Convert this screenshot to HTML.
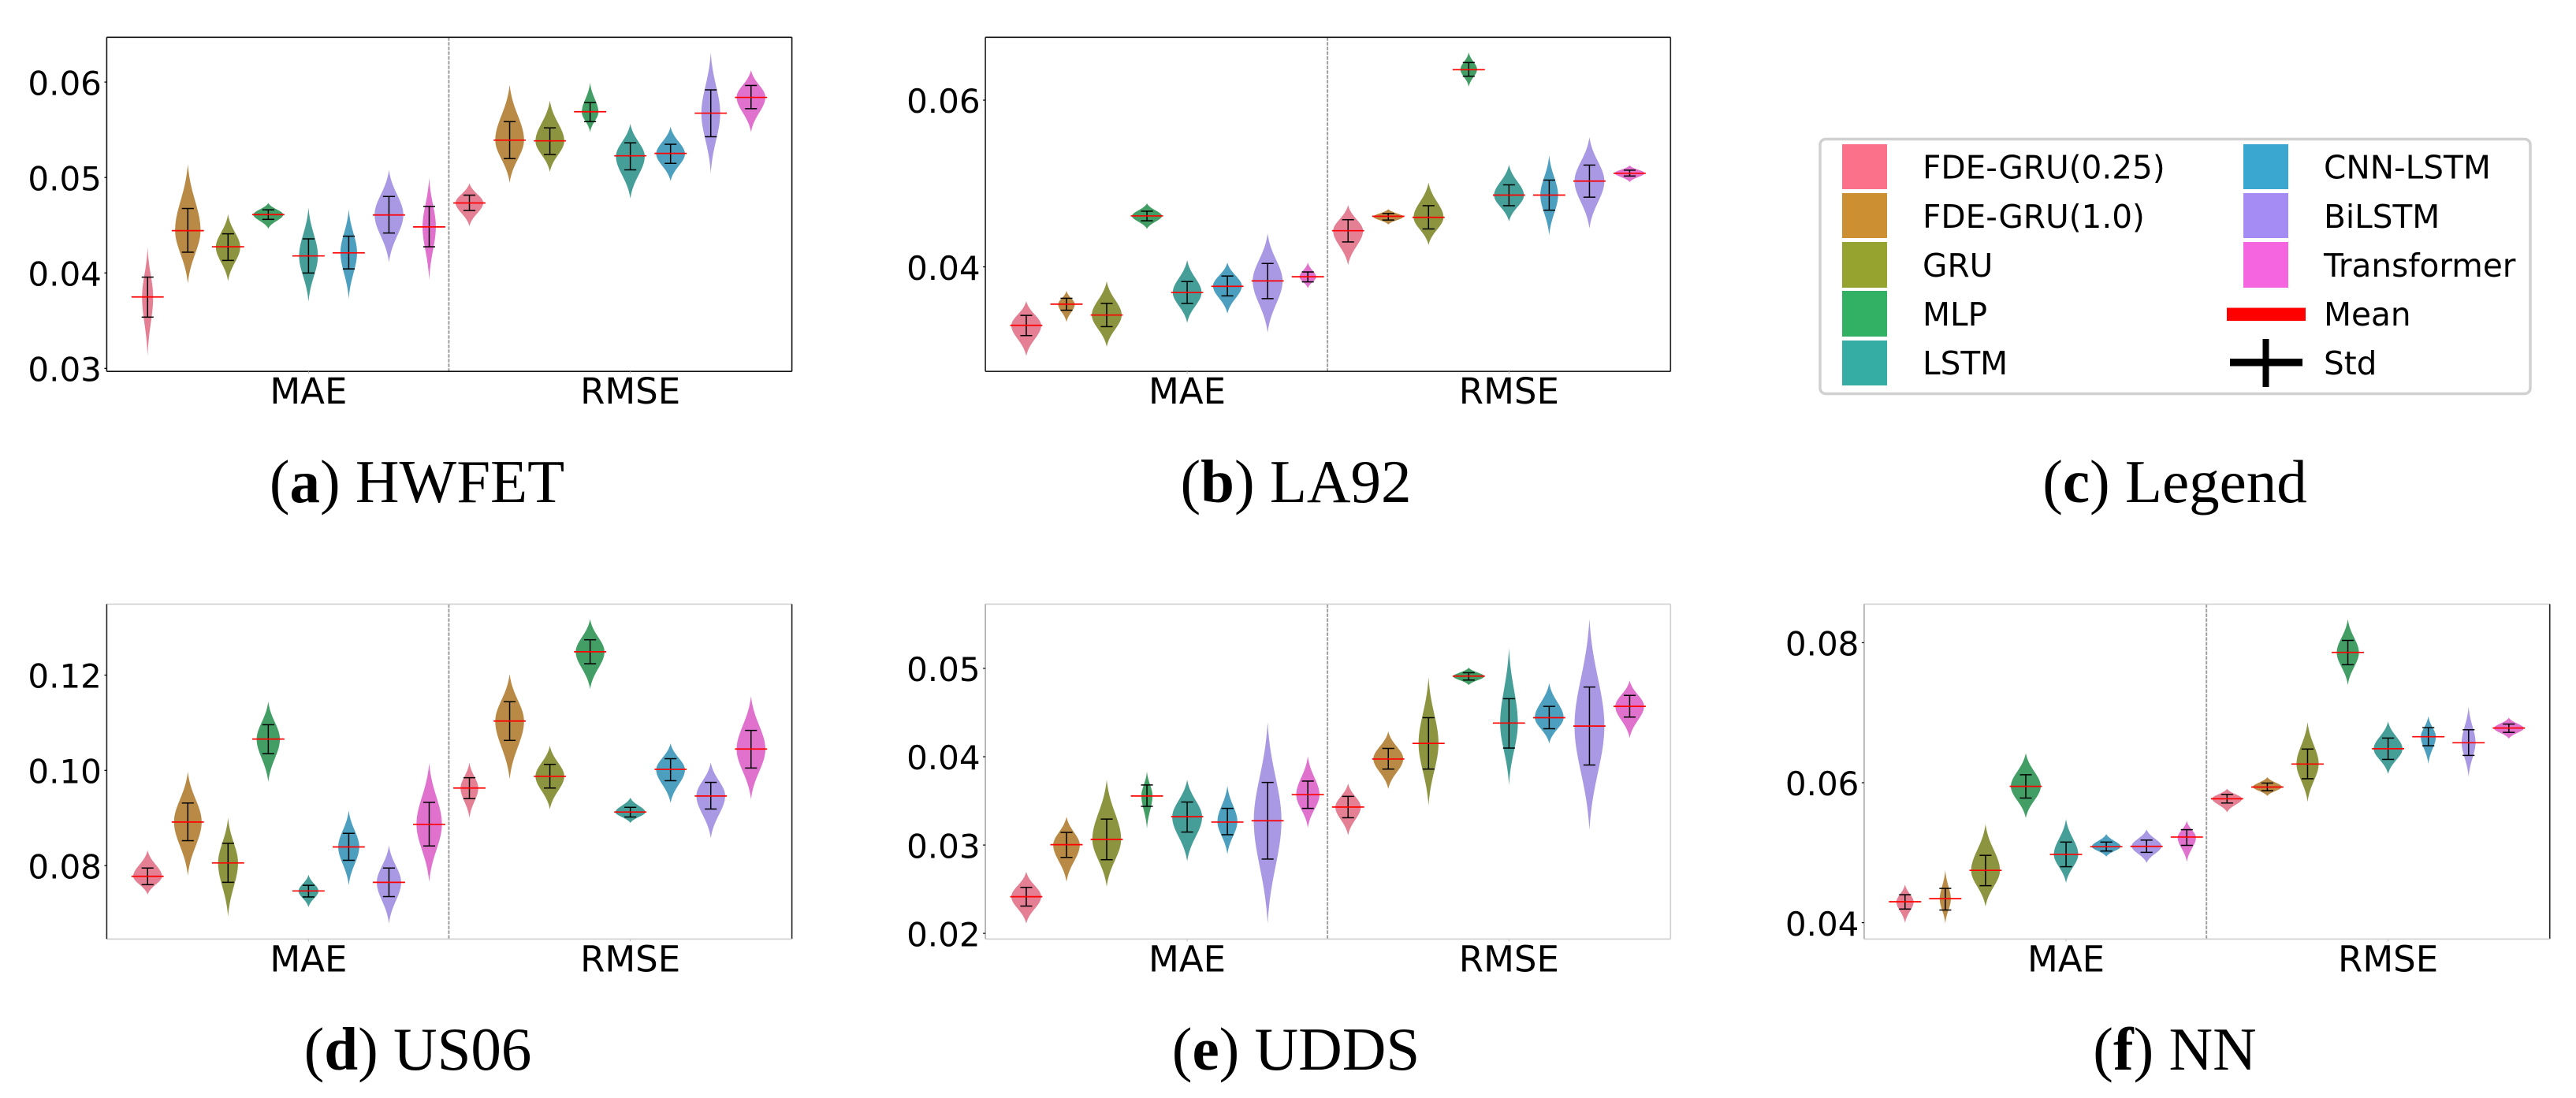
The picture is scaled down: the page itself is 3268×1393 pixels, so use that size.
<!DOCTYPE html>
<html lang="en">
<head>
<meta charset="utf-8">
<title>Violin plots of MAE and RMSE by model and drive cycle</title>
<style>
html,body{margin:0;padding:0;background:#fff;}
svg{display:block;}
.tick{font-family:"DejaVu Sans",sans-serif;font-size:42px;fill:#000;}
.xtick{font-family:"DejaVu Sans",sans-serif;font-size:45px;fill:#000;}
.cap{font-family:"Liberation Serif",serif;font-size:77px;fill:#000;}
.leg{font-family:"DejaVu Sans",sans-serif;font-size:40.6px;fill:#000;}
</style>
</head>
<body>
<svg id="figure" xmlns="http://www.w3.org/2000/svg" width="3268" height="1393" viewBox="0 0 3268 1393">
  <rect x="0" y="0" width="3268" height="1393" fill="#fff"/>

  <text class="cap" x="529" y="637" text-anchor="middle">(<tspan font-weight="bold">a</tspan>) HWFET</text>
  <text class="cap" x="1644" y="637" text-anchor="middle">(<tspan font-weight="bold">b</tspan>) LA92</text>
  <text class="cap" x="2759" y="637" text-anchor="middle">(<tspan font-weight="bold">c</tspan>) Legend</text>
  <text class="cap" x="530" y="1357" text-anchor="middle">(<tspan font-weight="bold">d</tspan>) US06</text>
  <text class="cap" x="1644" y="1357" text-anchor="middle">(<tspan font-weight="bold">e</tspan>) UDDS</text>
  <text class="cap" x="2759" y="1357" text-anchor="middle">(<tspan font-weight="bold">f</tspan>) NN</text>

  <g>
    <rect x="2309" y="176.5" width="901" height="323" rx="7" ry="7" fill="#fff" stroke="#d0d0d0" stroke-width="3.5"/>
    <rect x="2337" y="183" width="57" height="57" fill="#fb718a"/>
    <rect x="2337" y="245" width="57" height="57" fill="#cc8f32"/>
    <rect x="2337" y="307" width="57" height="58" fill="#96a32f"/>
    <rect x="2337" y="369" width="57" height="58" fill="#32b165"/>
    <rect x="2337" y="432" width="57" height="57" fill="#36ada4"/>
    <rect x="2846" y="183" width="57" height="57" fill="#39a7d0"/>
    <rect x="2846" y="245" width="57" height="57" fill="#a48cf4"/>
    <rect x="2846" y="307" width="57" height="58" fill="#f565df"/>
    <rect x="2825" y="390.5" width="100" height="16.5" fill="#ff0000"/>
    <rect x="2829" y="455" width="92" height="9.5" fill="#000"/>
    <rect x="2870.5" y="430" width="8" height="61" fill="#000"/>
    <text class="leg" x="2439" y="226.7">FDE-GRU(0.25)</text>
    <text class="leg" x="2439" y="289">FDE-GRU(1.0)</text>
    <text class="leg" x="2439" y="351">GRU</text>
    <text class="leg" x="2439" y="413">MLP</text>
    <text class="leg" x="2439" y="475">LSTM</text>
    <text class="leg" x="2948" y="226.7">CNN-LSTM</text>
    <text class="leg" x="2948" y="289">BiLSTM</text>
    <text class="leg" x="2948" y="351">Transformer</text>
    <text class="leg" x="2948" y="413">Mean</text>
    <text class="leg" x="2948" y="475">Std</text>
  </g>
</svg>
<script>
const models = ['FDE-GRU(0.25)','FDE-GRU(1.0)','GRU','MLP','LSTM','CNN-LSTM','BiLSTM','Transformer'];
const metrics = ['MAE','RMSE'];

const hwfetTicks = [0.03,0.04,0.05,0.06];
const hwfetTickLabels = ['0.03','0.04','0.05','0.06'];
const hwfetMeans = [0.03748,0.04443,0.04274,0.04611,0.04178,0.0421,0.04607,0.04482,0.04733,0.05391,0.05384,0.05689,0.05227,0.05252,0.05674,0.05839];
const hwfetStdHigh = [0.03956,0.04675,0.0441,0.04661,0.04357,0.04385,0.04801,0.04697,0.04815,0.05585,0.0552,0.05785,0.05363,0.05348,0.05918,0.05964];
const hwfetStdLow = [0.03537,0.04217,0.04131,0.04561,0.03999,0.04042,0.04418,0.04274,0.04654,0.05198,0.05241,0.05585,0.0508,0.05148,0.05427,0.05721];
const hwfetMax = [0.04271,0.05141,0.04615,0.04733,0.04683,0.04668,0.0508,0.05001,0.0494,0.05971,0.05807,0.05993,0.05563,0.05531,0.06311,0.06125];
const hwfetMin = [0.03129,0.03888,0.03913,0.04464,0.03698,0.03727,0.0411,0.03924,0.04489,0.04944,0.05058,0.05474,0.04779,0.04962,0.05044,0.05474];
const hwfetDensity = [10,23,22,27,17,15,26,12,25,26,26,15,26,26,17,26];

const la92Ticks = [0.04,0.06];
const la92TickLabels = ['0.04','0.06'];
const la92Means = [0.03299,0.03553,0.03422,0.04611,0.03693,0.03767,0.03832,0.03881,0.04434,0.04607,0.04594,0.06365,0.04861,0.04861,0.05029,0.05123];
const la92StdHigh = [0.03418,0.03623,0.03562,0.04668,0.03824,0.0389,0.04041,0.03939,0.04566,0.0464,0.04734,0.06451,0.04984,0.05041,0.05221,0.0516];
const la92StdLow = [0.03176,0.0348,0.03283,0.04553,0.03562,0.03652,0.03619,0.0382,0.04299,0.04562,0.04455,0.06287,0.04734,0.0468,0.04836,0.0509];
const la92Max = [0.0359,0.03713,0.03828,0.04762,0.04082,0.04053,0.04402,0.04053,0.04742,0.04693,0.05012,0.06574,0.05225,0.0534,0.05557,0.05217];
const la92Min = [0.0293,0.03336,0.03041,0.04455,0.03328,0.03439,0.03209,0.03742,0.0402,0.04508,0.04262,0.0616,0.04545,0.04377,0.04459,0.05017];
const la92Density = [27,15,27,27,26,26,27,15,27,27,27,15,27,16,27,27];

const us06Ticks = [0.08,0.10,0.12];
const us06TickLabels = ['0.08','0.10','0.12'];
const us06Means = [0.07776,0.08916,0.08056,0.10657,0.07469,0.08392,0.0765,0.08867,0.09629,0.11035,0.09874,0.1249,0.09126,0.10021,0.09462,0.10448];
const us06StdHigh = [0.0795,0.09315,0.08469,0.10958,0.07587,0.08678,0.0795,0.09329,0.09846,0.11441,0.10126,0.12741,0.09224,0.10245,0.09748,0.10839];
const us06StdLow = [0.07601,0.08524,0.0765,0.1035,0.07343,0.08112,0.0735,0.08413,0.09406,0.10629,0.09629,0.12238,0.09021,0.09783,0.09189,0.10049];
const us06Max = [0.08322,0.09972,0.09007,0.11448,0.07811,0.09161,0.08427,0.10154,0.10168,0.12021,0.10518,0.13175,0.09427,0.10567,0.10168,0.1156];
const us06Min = [0.07392,0.0779,0.0693,0.09755,0.07126,0.07587,0.06783,0.07657,0.09,0.09811,0.09182,0.11706,0.08895,0.09315,0.08574,0.09392];
const us06Density = [26,25,18,21,18,19,22,23,16,26,26,26,27,26,26,26];

const uddsTicks = [0.02,0.03,0.04,0.05];
const uddsTickLabels = ['0.02','0.03','0.04','0.05'];
const uddsMeans = [0.02415,0.03004,0.03064,0.03555,0.03321,0.0326,0.03275,0.0357,0.0343,0.03974,0.04151,0.04913,0.04381,0.04442,0.04347,0.0457];
const uddsStdHigh = [0.02521,0.03143,0.03294,0.0368,0.03487,0.03415,0.03709,0.03724,0.03551,0.04094,0.04442,0.04951,0.04657,0.0457,0.04789,0.04694];
const uddsStdLow = [0.02309,0.0286,0.02834,0.03438,0.03147,0.03117,0.02841,0.03415,0.03309,0.0386,0.0386,0.04868,0.04098,0.04317,0.03906,0.04449];
const uddsMax = [0.02698,0.03321,0.0374,0.03834,0.0374,0.03672,0.04392,0.04007,0.03698,0.04287,0.04902,0.05008,0.0523,0.04834,0.05562,0.04864];
const uddsMin = [0.02109,0.02581,0.02528,0.03185,0.02815,0.02894,0.02109,0.03196,0.03109,0.03634,0.03445,0.04811,0.03679,0.04151,0.0317,0.04211];
const uddsDensity = [27,24,26,10,27,18,25,21,23,27,18,28,16,26,27,26];

const nnTicks = [0.04,0.06,0.08];
const nnTickLabels = ['0.04','0.06','0.08'];
const nnMeans = [0.043,0.04343,0.04748,0.05948,0.04976,0.05086,0.05091,0.05224,0.05771,0.05938,0.06267,0.07862,0.06486,0.06657,0.06571,0.06781];
const nnStdHigh = [0.044,0.0449,0.04962,0.06114,0.05152,0.05152,0.05181,0.05329,0.05833,0.05995,0.06481,0.08033,0.06638,0.06786,0.06757,0.06838];
const nnStdLow = [0.04195,0.04181,0.04529,0.05781,0.048,0.05024,0.05005,0.05105,0.0571,0.05886,0.06057,0.07686,0.06333,0.06528,0.0639,0.06719];
const nnMax = [0.04548,0.04753,0.0541,0.06424,0.05481,0.05267,0.05333,0.05457,0.05914,0.06081,0.06867,0.08338,0.06876,0.06952,0.07091,0.06929];
const nnMin = [0.03995,0.03986,0.04229,0.05495,0.04567,0.04943,0.04852,0.04867,0.05576,0.0581,0.05724,0.07395,0.06124,0.06267,0.06081,0.06629];
const nnDensity = [15.5,10,26,27,22,26,27,16.5,27,26,20,20,26,13.5,12.5,27];

const violinColors = ['#e57f94','#b98a45','#8c943f','#429e64','#459f98','#4c9fbf','#a998e4','#e072ce'];
const SVG_NS = 'http://www.w3.org/2000/svg';
const figure = document.getElementById('figure');
const X_DOMAIN = [-0.627, 1.502];
const DIVIDER_AT = 0.436;
const HUE_STEP = 0.125;
const DENSITY_TO_CAT = 1 / 582;

function make(tag, attrs, parent) {
  const el = document.createElementNS(SVG_NS, tag);
  for (const k in attrs) el.setAttribute(k, attrs[k]);
  parent.appendChild(el);
  return el;
}

function drawPanel(p) {
  const xScale = c => p.left + (c - X_DOMAIN[0]) / (X_DOMAIN[1] - X_DOMAIN[0]) * (p.right - p.left);
  const yScale = v => p.bottom - (v - p.yMin) / (p.yMax - p.yMin) * (p.bottom - p.top);

  const g = make('g', {}, figure);
  
  

  p.means.forEach((m, i) => {
    const cat = i < 8 ? 0 : 1;
    const hue = i % 8;
    const cx = cat + (hue - 4) * HUE_STEP;
    const vg = make('g', {}, g);
    
    

    const hi = p.max[i], lo = p.min[i];
    const centre = (p.stdHigh[i] + p.stdLow[i]) / 2;
    const half = p.density[i] * DENSITY_TO_CAT;
    const SPREAD = 2.25;
    const edge = Math.exp(-0.5 * SPREAD * SPREAD);
    const shape = v => {
      const s = (v >= centre ? hi - centre : centre - lo) / SPREAD;
      const g0 = Math.exp(-0.5 * Math.pow((v - centre) / s, 2));
      return Math.max(0, (g0 - edge) / (1 - edge));
    };
    const left = [], right = [];
    const STEPS = 48;
    for (let k = 0; k <= STEPS; k++) {
      const v = hi + (lo - hi) * k / STEPS;
      const w = half * shape(v);
      right.push(xScale(cx + w).toFixed(2) + ',' + yScale(v).toFixed(2));
      left.unshift(xScale(cx - w).toFixed(2) + ',' + yScale(v).toFixed(2));
    }
    const body = make('polygon', { points: right.concat(left).join(' '), fill: violinColors[hue] }, vg);
    
    

    const capHalf = 0.0185;
    const stem = make('line', { x1: xScale(cx), x2: xScale(cx), y1: yScale(p.stdHigh[i]), y2: yScale(p.stdLow[i]), stroke: '#000', 'stroke-width': 1.5 }, vg);
    
    
    const capTop = make('line', { x1: xScale(cx - capHalf), x2: xScale(cx + capHalf), y1: yScale(p.stdHigh[i]), y2: yScale(p.stdHigh[i]), stroke: '#000', 'stroke-width': 1.5 }, vg);
    
    
    const capBottom = make('line', { x1: xScale(cx - capHalf), x2: xScale(cx + capHalf), y1: yScale(p.stdLow[i]), y2: yScale(p.stdLow[i]), stroke: '#000', 'stroke-width': 1.5 }, vg);
    
    
    const meanHalf = 0.05;
    const meanLine = make('line', { x1: xScale(cx - meanHalf), x2: xScale(cx + meanHalf), y1: yScale(m), y2: yScale(m), stroke: '#ff0000', 'stroke-width': 1.7 }, vg);
    
    
  });

  const divider = make('line', { x1: xScale(DIVIDER_AT), x2: xScale(DIVIDER_AT), y1: p.top, y2: p.bottom, stroke: '#a0a0a0', 'stroke-width': 2, 'stroke-dasharray': '4.5 1.5' }, g);
  
  

  const spines = [
    ['top', p.left, p.top, p.right, p.top, p.spines[0]],
    ['right', p.right, p.top, p.right, p.bottom, p.spines[1]],
    ['bottom', p.left, p.bottom, p.right, p.bottom, p.spines[2]],
    ['left', p.left, p.top, p.left, p.bottom, p.spines[3]]
  ];
  spines.forEach(s => {
    const sp = make('line', { x1: s[1], y1: s[2], x2: s[3], y2: s[4], stroke: s[5], 'stroke-width': 1.6 }, g);
    
    
  });

  p.ticks.forEach((t, i) => {
    const y = yScale(t);
    const tm = make('line', { x1: p.left - 3, x2: p.left, y1: y, y2: y, stroke: '#000', 'stroke-width': 1.2 }, g);
    
    
    const tl = make('text', { x: p.left - 6.5, y: y + 16.2, 'text-anchor': 'end', class: 'tick' }, g);
    
    
    tl.textContent = p.tickLabels[i];
  });

  metrics.forEach((name, c) => {
    const x = xScale(c);
    const tm = make('line', { x1: x, x2: x, y1: p.bottom, y2: p.bottom + 3, stroke: '#bbb', 'stroke-width': 1 }, g);
    
    
    const tl = make('text', { x: x, y: p.bottom + 41, 'text-anchor': 'middle', class: 'xtick' }, g);
    
    
    tl.textContent = name;
  });
}

drawPanel({ id:'hwfet', left:135.4, right:1004.6, top:47.3, bottom:471.2, yMin:0.02968, yMax:0.06469,
  ticks:hwfetTicks, tickLabels:hwfetTickLabels, means:hwfetMeans, stdHigh:hwfetStdHigh, stdLow:hwfetStdLow, max:hwfetMax, min:hwfetMin, density:hwfetDensity,
  spines:['#111','#111','#111','#111'] });
drawPanel({ id:'la92', left:1250.1, right:2119.3, top:47.3, bottom:471.2, yMin:0.02746, yMax:0.06754,
  ticks:la92Ticks, tickLabels:la92TickLabels, means:la92Means, stdHigh:la92StdHigh, stdLow:la92StdLow, max:la92Max, min:la92Min, density:la92Density,
  spines:['#111','#222','#222','#222'] });
drawPanel({ id:'us06', left:135.4, right:1004.6, top:766.4, bottom:1191.3, yMin:0.0646, yMax:0.1349,
  ticks:us06Ticks, tickLabels:us06TickLabels, means:us06Means, stdHigh:us06StdHigh, stdLow:us06StdLow, max:us06Max, min:us06Min, density:us06Density,
  spines:['#d0d0d0','#222','#d0d0d0','#222'] });
drawPanel({ id:'udds', left:1250.1, right:2119.3, top:766.4, bottom:1191.3, yMin:0.01936, yMax:0.05728,
  ticks:uddsTicks, tickLabels:uddsTickLabels, means:uddsMeans, stdHigh:uddsStdHigh, stdLow:uddsStdLow, max:uddsMax, min:uddsMin, density:uddsDensity,
  spines:['#d0d0d0','#d0d0d0','#d0d0d0','#aaa'] });
drawPanel({ id:'nn', left:2364.9, right:3234.7, top:766.4, bottom:1191.3, yMin:0.03767, yMax:0.08552,
  ticks:nnTicks, tickLabels:nnTickLabels, means:nnMeans, stdHigh:nnStdHigh, stdLow:nnStdLow, max:nnMax, min:nnMin, density:nnDensity,
  spines:['#d0d0d0','#222','#d0d0d0','#aaa'] });
</script>
</body>
</html>
